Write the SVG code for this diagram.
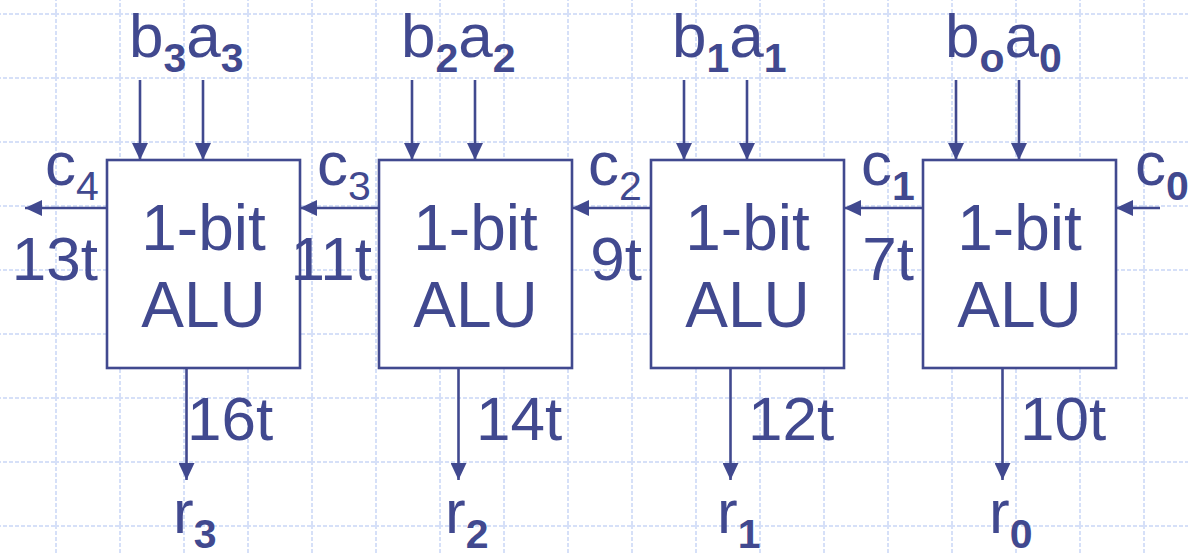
<svg xmlns="http://www.w3.org/2000/svg" width="1188" height="553" viewBox="0 0 1188 553">
<style>
.bg{fill:#ffffff}
.box{fill:#ffffff;stroke:#41498f;stroke-width:2.6}
.wire{fill:none;stroke:#41498f;stroke-width:2.6}
.t{font-family:"Liberation Sans",Arial,sans-serif;font-size:62px;fill:#41498f}
.big{font-size:64px}
.sub{font-size:41px}
.b{font-weight:bold}
.grid{stroke:#d6e0f8;stroke-width:2;stroke-dasharray:4 2}
</style>
<defs>
<pattern id="gridpat" x="55" y="13" width="64" height="64" patternUnits="userSpaceOnUse">
<line class="grid" x1="1" y1="0" x2="1" y2="64"/>
<line class="grid" x1="0" y1="1" x2="64" y2="1"/>
</pattern>
<marker id="arr" markerUnits="userSpaceOnUse" markerWidth="17" markerHeight="16" refX="17" refY="8" orient="auto">
<path d="M0,0 L17,8 L0,16 z" fill="#41498f"/>
</marker>
</defs>
<rect class="bg" x="0" y="0" width="1188" height="553"/>
<rect x="0" y="0" width="1188" height="553" fill="url(#gridpat)"/>

<g id="connectors">
<path class="wire" marker-end="url(#arr)" d="M140,80 V160"/>
<path class="wire" marker-end="url(#arr)" d="M203,80 V160"/>
<path class="wire" marker-end="url(#arr)" d="M412,80 V160"/>
<path class="wire" marker-end="url(#arr)" d="M475,80 V160"/>
<path class="wire" marker-end="url(#arr)" d="M684,80 V160"/>
<path class="wire" marker-end="url(#arr)" d="M747,80 V160"/>
<path class="wire" marker-end="url(#arr)" d="M956,80 V160"/>
<path class="wire" marker-end="url(#arr)" d="M1019,80 V160"/>
<path class="wire" marker-end="url(#arr)" d="M107,208 H25"/>
<path class="wire" marker-end="url(#arr)" d="M379,208 H300"/>
<path class="wire" marker-end="url(#arr)" d="M651,208 H572"/>
<path class="wire" marker-end="url(#arr)" d="M923,208 H844"/>
<path class="wire" marker-end="url(#arr)" d="M1160,208 H1116"/>
<path class="wire" marker-end="url(#arr)" d="M186.5,368 V480"/>
<path class="wire" marker-end="url(#arr)" d="M458.5,368 V480"/>
<path class="wire" marker-end="url(#arr)" d="M730.5,368 V480"/>
<path class="wire" marker-end="url(#arr)" d="M1002.5,368 V480"/>
</g>

<g id="alu3">
<rect class="box" x="107" y="160" width="193" height="208"/>
<text class="t big" x="203.5" y="250" text-anchor="middle">1-bit</text>
<text class="t big" x="203.5" y="327" text-anchor="middle">ALU</text>
</g>
<g id="alu2">
<rect class="box" x="379" y="160" width="193" height="208"/>
<text class="t big" x="475.5" y="250" text-anchor="middle">1-bit</text>
<text class="t big" x="475.5" y="327" text-anchor="middle">ALU</text>
</g>
<g id="alu1">
<rect class="box" x="651" y="160" width="193" height="208"/>
<text class="t big" x="747.5" y="250" text-anchor="middle">1-bit</text>
<text class="t big" x="747.5" y="327" text-anchor="middle">ALU</text>
</g>
<g id="alu0">
<rect class="box" x="923" y="160" width="193" height="208"/>
<text class="t big" x="1019.5" y="250" text-anchor="middle">1-bit</text>
<text class="t big" x="1019.5" y="327" text-anchor="middle">ALU</text>
</g>

<g id="labels">
<text class="t" x="129" y="57">b<tspan class="sub b" dy="15">3</tspan><tspan dy="-15">a</tspan><tspan class="sub b" dy="15">3</tspan></text>
<text class="t" x="401" y="57">b<tspan class="sub b" dy="15">2</tspan><tspan dy="-15">a</tspan><tspan class="sub b" dy="15">2</tspan></text>
<text class="t" x="672" y="57">b<tspan class="sub b" dy="15">1</tspan><tspan dy="-15">a</tspan><tspan class="sub b" dy="15">1</tspan></text>
<text class="t" x="945" y="57">b<tspan class="sub b" dy="15">o</tspan><tspan dy="-15">a</tspan><tspan class="sub b" dy="15">0</tspan></text>

<text class="t" x="45" y="185">c<tspan class="sub" dy="15">4</tspan></text>
<text class="t" x="317" y="185">c<tspan class="sub" dy="15">3</tspan></text>
<text class="t" x="588" y="185">c<tspan class="sub" dy="15">2</tspan></text>
<text class="t" x="861" y="185">c<tspan class="sub b" dy="15">1</tspan></text>
<text class="t" x="1135" y="185">c<tspan class="sub b" dy="15">0</tspan></text>

<text class="t" x="98" y="280" text-anchor="end">13t</text>
<text class="t" x="372" y="280" text-anchor="end">11t</text>
<text class="t" x="642" y="280" text-anchor="end">9t</text>
<text class="t" x="914" y="280" text-anchor="end">7t</text>

<text class="t" x="187" y="440">16t</text>
<text class="t" x="476" y="440">14t</text>
<text class="t" x="748" y="440">12t</text>
<text class="t" x="1020" y="440">10t</text>

<text class="t" x="173" y="533">r<tspan class="sub b" dy="15">3</tspan></text>
<text class="t" x="445" y="533">r<tspan class="sub b" dy="15">2</tspan></text>
<text class="t" x="717" y="533">r<tspan class="sub b" dy="15">1</tspan></text>
<text class="t" x="989" y="533">r<tspan class="sub b" dy="15">0</tspan></text>
</g>
</svg>
